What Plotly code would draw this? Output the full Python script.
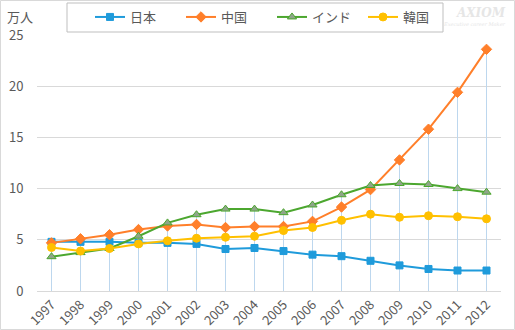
import plotly.graph_objects as go

years = [str(y) for y in range(1997, 2013)]
japan = [4.8, 4.8, 4.8, 4.7, 4.7, 4.6, 4.1, 4.2, 3.9, 3.55, 3.4, 2.95, 2.5, 2.15, 2.0, 2.0]
china = [4.7, 5.1, 5.5, 6.0, 6.35, 6.5, 6.2, 6.3, 6.3, 6.8, 8.2, 9.9, 12.8, 15.8, 19.4, 23.6]
india = [3.35, 3.75, 4.15, 5.35, 6.65, 7.45, 8.0, 8.0, 7.65, 8.4, 9.4, 10.3, 10.5, 10.4, 10.0, 9.65]
korea = [4.25, 3.9, 4.15, 4.6, 4.9, 5.15, 5.25, 5.35, 5.9, 6.2, 6.9, 7.5, 7.2, 7.35, 7.25, 7.05]
names = ["日本", "中国", "インド", "韓国"]
y_ticks = [0, 5, 10, 15, 20, 25]

font = "Noto Sans CJK JP"
fig = go.Figure()

# drop lines (from 0 to highest value of each category)
dx, dy = [], []
for i, yr in enumerate(years):
    m = max(japan[i], china[i], india[i], korea[i])
    dx += [yr, yr, None]
    dy += [0, m, None]
fig.add_trace(go.Scatter(x=dx, y=dy, mode="lines", line=dict(color="#BDD7EE", width=1),
                         showlegend=False, hoverinfo="skip"))

styles = [
    (japan, "#1F9BDB", "square", 7),
    (china, "#FF7F2A", "diamond", 8),
    (india, "#4CA72F", "triangle-up", 8),
    (korea, "#FFC000", "circle", 8),
]
for (vals, col, sym, sz), nm in zip(styles, names):
    mc = "#8FA58A" if sym == "triangle-up" else col
    fig.add_trace(go.Scatter(x=years, y=vals, name=nm, mode="lines+markers",
                             line=dict(color=col, width=2),
                             marker=dict(symbol=sym, size=sz, color=mc,
                                         line=dict(color=col, width=1))))

W, H = 515, 330
L, R, T, B = 37, 14, 35, 39
pw, ph = W - L - R, H - T - B
def px(x): return (x - L) / pw
def py(y): return (H - B - y) / ph

fig.add_shape(type="rect", xref="paper", yref="paper",
              x0=px(0.5), x1=px(514.5), y0=py(329.5), y1=py(0.5),
              line=dict(color="#D9D9D9", width=1), layer="below")
fig.add_shape(type="rect", xref="paper", yref="paper",
              x0=px(67), x1=px(443), y0=py(32), y1=py(3),
              line=dict(color="#BFBFBF", width=1), layer="below")

fig.add_annotation(text="万人", xref="paper", yref="paper", x=px(5), y=py(16),
                   xanchor="left", yanchor="middle", showarrow=False,
                   font=dict(family=font, size=13, color="#595959"))
fig.add_annotation(text="<b><i>AXIOM</i></b>", xref="paper", yref="paper", x=px(508), y=py(13),
                   xanchor="right", yanchor="middle", showarrow=False,
                   font=dict(family="DejaVu Serif", size=12, color="#E6E6E6"))
fig.add_annotation(text="<i>Executive career Maker</i>", xref="paper", yref="paper", x=px(508), y=py(24),
                   xanchor="right", yanchor="middle", showarrow=False,
                   font=dict(family="DejaVu Serif", size=5, color="#E6E6E6"))

fig.update_layout(
    width=W, height=H, margin=dict(l=L, r=R, t=T, b=B, autoexpand=False),
    paper_bgcolor="white", plot_bgcolor="white",
    font=dict(family=font, size=13, color="#595959"),
    legend=dict(orientation="h", x=px(272), xanchor="center", y=py(17), yanchor="middle",
                entrywidth=46, entrywidthmode="pixels", font=dict(size=13, color="#595959"),
                bgcolor="rgba(0,0,0,0)"),
    xaxis=dict(type="category", tickangle=-45, showgrid=False, showline=True, automargin=False,
               linecolor="#D9D9D9", ticks="", tickfont=dict(size=13, color="#595959"),
               range=[-0.5, 15.5]),
    yaxis=dict(range=[0, 25], tickvals=y_ticks, showgrid=True, gridcolor="#D9D9D9", automargin=False,
               zeroline=False, showline=False, ticks="outside", ticklen=10,
               tickcolor="rgba(0,0,0,0)", tickfont=dict(size=13, color="#595959")),
)
fig.write_html("out.html")
